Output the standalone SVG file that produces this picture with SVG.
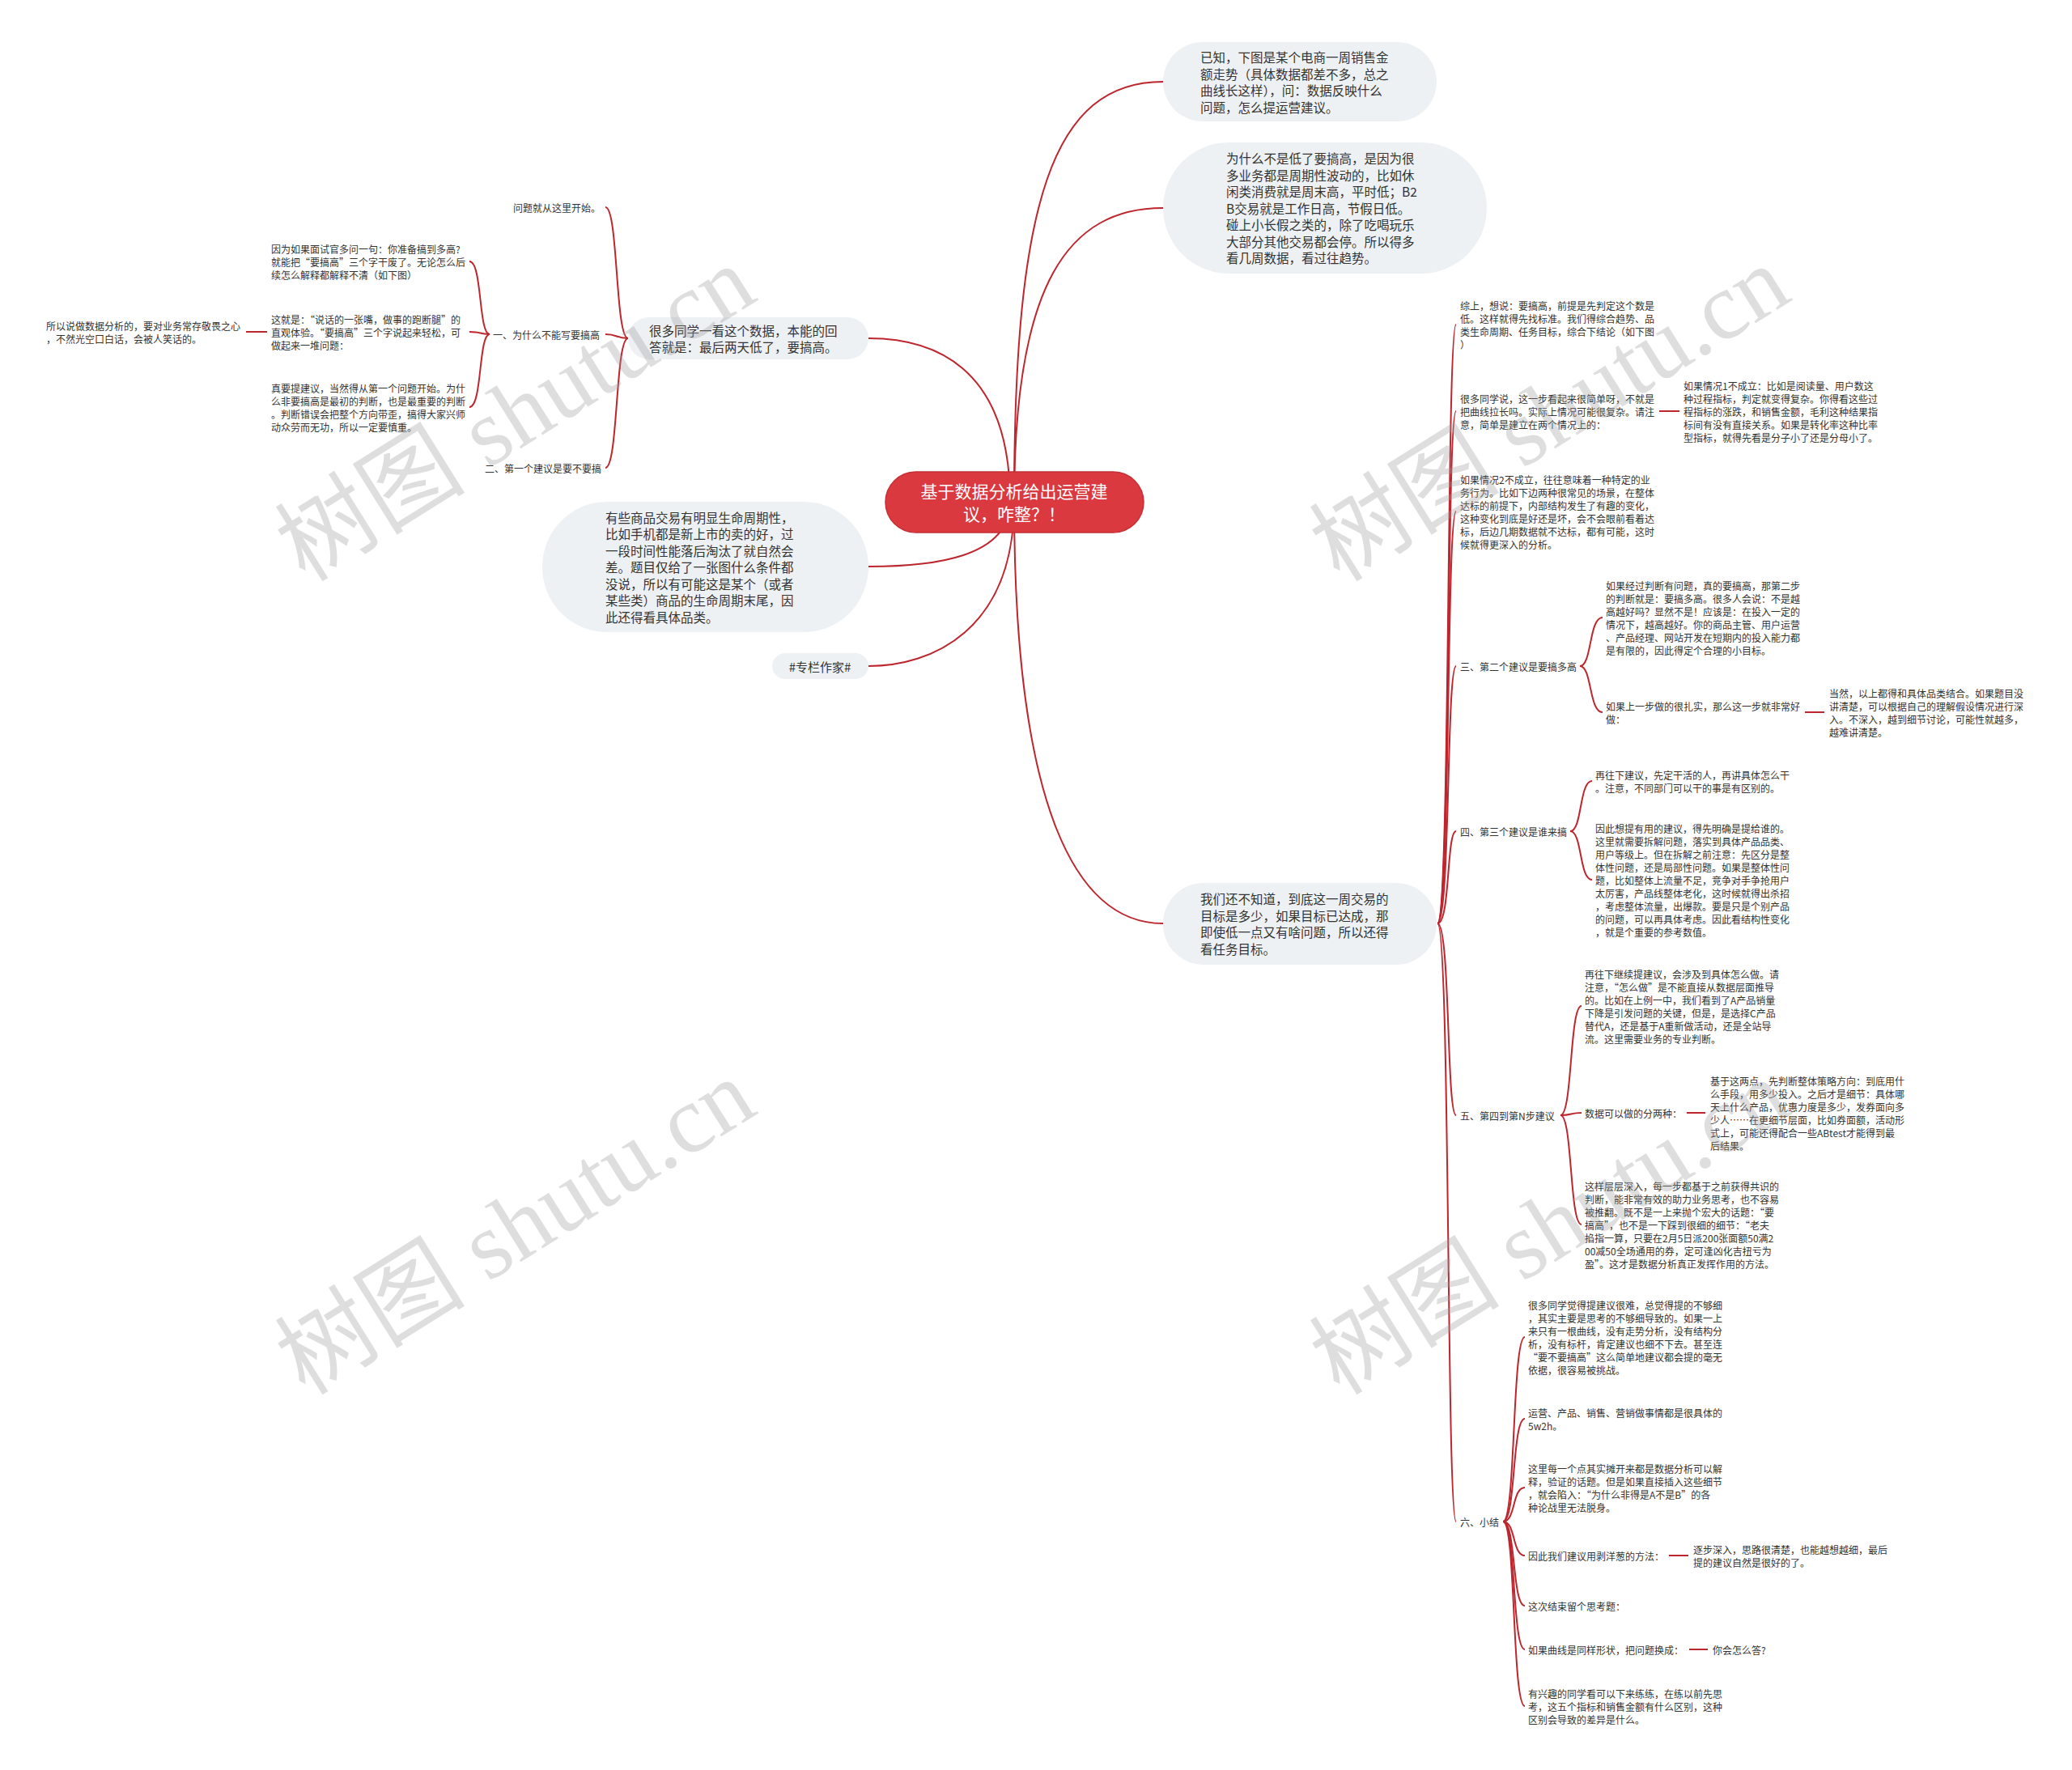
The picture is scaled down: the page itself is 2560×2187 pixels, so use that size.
<svg xmlns="http://www.w3.org/2000/svg" width="2560" height="2187" viewBox="0 0 2560 2187">
<style>
text{font-family:"Noto Sans CJK SC","Noto Sans",sans-serif;fill:#333;dominant-baseline:central}
.s{font-size:12px}
.b{font-size:15.5px}
.t{font-size:15px}
.c{font-size:21px;fill:#fff}
.bub{fill:#eef1f4}
.ln{fill:none;stroke:#bd262d;stroke-width:2}
.wm{font-family:"Liberation Serif","Noto Sans CJK SC",serif;font-size:118px;fill:#9a9a9a;fill-opacity:0.33;dominant-baseline:auto}
</style>
<rect width="2560" height="2187" fill="#fff"/>
<g id="connectors" class="ln">
<path d="M1253,620 C1253,250 1300,101 1437,101"/>
<path d="M1253,620 C1253,350 1320,257 1437,257"/>
<path d="M1248,620 C1248,450 1150,418 1073,418"/>
<path d="M1248,620 C1248,690 1150,700 1073,700"/>
<path d="M1253,620 C1253,780 1150,823 1073,823"/>
<path d="M1253,620 C1253,1000 1330,1141 1437,1141"/>
<path d="M776,418 C760,418 764,256 748,256"/>
<path d="M776,418 C760,418 764,413 748,413"/>
<path d="M776,418 C760,418 764,578 748,578"/>
<path d="M605,413 C591,413 596,323 580,323"/>
<path d="M605,413 C591,413 596,410 580,410"/>
<path d="M605,413 C591,413 596,503 580,503"/>
<path d="M304,410 L330,410"/>
<path d="M1776,1141 C1792,1141 1787,401 1799,401"/>
<path d="M1776,1141 C1792,1141 1787,508 1799,508"/>
<path d="M1776,1141 C1792,1141 1787,632 1799,632"/>
<path d="M1776,1141 C1792,1141 1787,823 1799,823"/>
<path d="M1776,1141 C1792,1141 1787,1027 1799,1027"/>
<path d="M1776,1141 C1792,1141 1787,1378 1799,1378"/>
<path d="M1776,1141 C1792,1141 1787,1880 1799,1880"/>
<path d="M2050,508 L2075,508"/>
<path d="M1952,823 C1967,823 1963,763 1980,763"/>
<path d="M1952,823 C1967,823 1963,880 1980,880"/>
<path d="M2230,880 L2254,880"/>
<path d="M1940,1027 C1955,1027 1951,965 1967,965"/>
<path d="M1940,1027 C1955,1027 1951,1087 1967,1087"/>
<path d="M1928,1378 C1943,1378 1939,1243 1954,1243"/>
<path d="M1928,1378 C1943,1378 1939,1375 1954,1375"/>
<path d="M1928,1378 C1943,1378 1939,1513 1954,1513"/>
<path d="M2084,1375 L2107,1375"/>
<path d="M1857,1880 C1873,1880 1868,1652 1884,1652"/>
<path d="M1857,1880 C1873,1880 1868,1753 1884,1753"/>
<path d="M1857,1880 C1873,1880 1868,1838 1884,1838"/>
<path d="M1857,1880 C1873,1880 1868,1922 1884,1922"/>
<path d="M1857,1880 C1873,1880 1868,1984 1884,1984"/>
<path d="M1857,1880 C1873,1880 1868,2038 1884,2038"/>
<path d="M1857,1880 C1873,1880 1868,2108 1884,2108"/>
<path d="M2062,1922 L2086,1922"/>
<path d="M2087,2038 L2110,2038"/>
</g>
<g id="root">
<rect x="1094" y="583" width="319" height="75" rx="37.5" fill="#d9393f" stroke="#c52f35" stroke-width="1.5"/>
<text class="c" text-anchor="middle"><tspan x="1253" y="606">基于数据分析给出运营建</tspan><tspan x="1253" y="634">议，咋整？！</tspan></text>
</g>
<g id="n-known">
<rect class="bub" x="1437" y="52" width="338" height="98" rx="49"/>
<text class="b"><tspan x="1483" y="70">已知，下图是某个电商一周销售金</tspan><tspan x="1483" y="91">额走势（具体数据都差不多，总之</tspan><tspan x="1483" y="111">曲线长这样），问：数据反映什么</tspan><tspan x="1483" y="132">问题，怎么提运营建议。</tspan></text>
</g>
<g id="n-why">
<rect class="bub" x="1437" y="176" width="400" height="162" rx="81"/>
<text class="b"><tspan x="1515" y="195">为什么不是低了要搞高，是因为很</tspan><tspan x="1515" y="216">多业务都是周期性波动的，比如休</tspan><tspan x="1515" y="236">闲类消费就是周末高，平时低；B2</tspan><tspan x="1515" y="257">B交易就是工作日高，节假日低。</tspan><tspan x="1515" y="277">碰上小长假之类的，除了吃喝玩乐</tspan><tspan x="1515" y="298">大部分其他交易都会停。所以得多</tspan><tspan x="1515" y="318">看几周数据，看过往趋势。</tspan></text>
</g>
<g id="n-many">
<rect class="bub" x="776" y="392" width="297" height="52" rx="26"/>
<text class="b"><tspan x="802" y="408">很多同学一看这个数据，本能的回</tspan><tspan x="802" y="428">答就是：最后两天低了，要搞高。</tspan></text>
</g>
<g id="n-life">
<rect class="bub" x="670" y="620" width="403" height="161" rx="80"/>
<text class="b"><tspan x="748" y="639">有些商品交易有明显生命周期性，</tspan><tspan x="748" y="659">比如手机都是新上市的卖的好，过</tspan><tspan x="748" y="680">一段时间性能落后淘汰了就自然会</tspan><tspan x="748" y="700">差。题目仅给了一张图什么条件都</tspan><tspan x="748" y="721">没说，所以有可能这是某个（或者</tspan><tspan x="748" y="741">某些类）商品的生命周期末尾，因</tspan><tspan x="748" y="762">此还得看具体品类。</tspan></text>
</g>
<g id="n-tag">
<rect class="bub" x="954" y="807" width="119" height="32" rx="16"/>
<text class="t" text-anchor="middle" x="1013" y="823">#专栏作家#</text>
</g>
<g id="n-target">
<rect class="bub" x="1437" y="1091" width="338" height="101" rx="50"/>
<text class="b"><tspan x="1483" y="1110">我们还不知道，到底这一周交易的</tspan><tspan x="1483" y="1131">目标是多少，如果目标已达成，那</tspan><tspan x="1483" y="1151">即使低一点又有啥问题，所以还得</tspan><tspan x="1483" y="1172">看任务目标。</tspan></text>
</g>
<g id="n-start"><text class="s" x="634" y="256">问题就从这里开始。</text></g>
<g id="n-one"><text class="s" x="609" y="413">一、为什么不能写要搞高</text></g>
<g id="n-two"><text class="s" x="599" y="578">二、第一个建议是要不要搞</text></g>
<g id="n-one-a"><text class="s"><tspan x="335" y="307">因为如果面试官多问一句：你准备搞到多高?</tspan><tspan x="335" y="323">就能把“要搞高”三个字干废了。无论怎么后</tspan><tspan x="335" y="339">续怎么解释都解释不清（如下图）</tspan></text></g>
<g id="n-one-b"><text class="s"><tspan x="335" y="394">这就是：“说话的一张嘴，做事的跑断腿”的</tspan><tspan x="335" y="410">直观体验。“要搞高”三个字说起来轻松，可</tspan><tspan x="335" y="426">做起来一堆问题：</tspan></text></g>
<g id="n-one-c"><text class="s"><tspan x="335" y="479">真要提建议，当然得从第一个问题开始。为什</tspan><tspan x="335" y="495">么非要搞高是最初的判断，也是最重要的判断</tspan><tspan x="335" y="511">。判断错误会把整个方向带歪，搞得大家兴师</tspan><tspan x="335" y="527">动众劳而无功，所以一定要慎重。</tspan></text></g>
<g id="n-one-b1"><text class="s"><tspan x="57" y="402">所以说做数据分析的，要对业务常存敬畏之心</tspan><tspan x="57" y="418">，不然光空口白话，会被人笑话的。</tspan></text></g>
<g id="n-r1"><text class="s"><tspan x="1804" y="377">综上，想说：要搞高，前提是先判定这个数是</tspan><tspan x="1804" y="393">低。这样就得先找标准。我们得综合趋势、品</tspan><tspan x="1804" y="409">类生命周期、任务目标，综合下结论（如下图</tspan><tspan x="1804" y="425">）</tspan></text></g>
<g id="n-r2"><text class="s"><tspan x="1804" y="492">很多同学说，这一步看起来很简单呀，不就是</tspan><tspan x="1804" y="508">把曲线拉长吗。实际上情况可能很复杂。请注</tspan><tspan x="1804" y="524">意，简单是建立在两个情况上的：</tspan></text></g>
<g id="n-r2a"><text class="s"><tspan x="2080" y="476">如果情况1不成立：比如是阅读量、用户数这</tspan><tspan x="2080" y="492">种过程指标，判定就变得复杂。你得看这些过</tspan><tspan x="2080" y="508">程指标的涨跌，和销售金额，毛利这种结果指</tspan><tspan x="2080" y="524">标间有没有直接关系。如果是转化率这种比率</tspan><tspan x="2080" y="540">型指标，就得先看是分子小了还是分母小了。</tspan></text></g>
<g id="n-r3"><text class="s"><tspan x="1804" y="592">如果情况2不成立，往往意味着一种特定的业</tspan><tspan x="1804" y="608">务行为。比如下边两种很常见的场景，在整体</tspan><tspan x="1804" y="624">达标的前提下，内部结构发生了有趣的变化，</tspan><tspan x="1804" y="640">这种变化到底是好还是坏，会不会眼前看着达</tspan><tspan x="1804" y="656">标，后边几期数据就不达标，都有可能，这时</tspan><tspan x="1804" y="672">候就得更深入的分析。</tspan></text></g>
<g id="n-three"><text class="s" x="1804" y="823">三、第二个建议是要搞多高</text></g>
<g id="n-three-a"><text class="s"><tspan x="1984" y="723">如果经过判断有问题，真的要搞高，那第二步</tspan><tspan x="1984" y="739">的判断就是：要搞多高。很多人会说：不是越</tspan><tspan x="1984" y="755">高越好吗？显然不是！应该是：在投入一定的</tspan><tspan x="1984" y="771">情况下，越高越好。你的商品主管、用户运营</tspan><tspan x="1984" y="787">、产品经理、网站开发在短期内的投入能力都</tspan><tspan x="1984" y="803">是有限的，因此得定个合理的小目标。</tspan></text></g>
<g id="n-three-b"><text class="s"><tspan x="1984" y="872">如果上一步做的很扎实，那么这一步就非常好</tspan><tspan x="1984" y="888">做：</tspan></text></g>
<g id="n-three-b1"><text class="s"><tspan x="2260" y="856">当然，以上都得和具体品类结合。如果题目没</tspan><tspan x="2260" y="872">讲清楚，可以根据自己的理解假设情况进行深</tspan><tspan x="2260" y="888">入。不深入，越到细节讨论，可能性就越多，</tspan><tspan x="2260" y="904">越难讲清楚。</tspan></text></g>
<g id="n-four"><text class="s" x="1804" y="1027">四、第三个建议是谁来搞</text></g>
<g id="n-four-a"><text class="s"><tspan x="1971" y="957">再往下建议，先定干活的人，再讲具体怎么干</tspan><tspan x="1971" y="973">。注意，不同部门可以干的事是有区别的。</tspan></text></g>
<g id="n-four-b"><text class="s"><tspan x="1971" y="1023">因此想提有用的建议，得先明确是提给谁的。</tspan><tspan x="1971" y="1039">这里就需要拆解问题，落实到具体产品品类、</tspan><tspan x="1971" y="1055">用户等级上。但在拆解之前注意：先区分是整</tspan><tspan x="1971" y="1071">体性问题，还是局部性问题。如果是整体性问</tspan><tspan x="1971" y="1087">题，比如整体上流量不足，竞争对手争抢用户</tspan><tspan x="1971" y="1103">太厉害，产品线整体老化，这时候就得出杀招</tspan><tspan x="1971" y="1119">，考虑整体流量，出爆款。要是只是个别产品</tspan><tspan x="1971" y="1135">的问题，可以再具体考虑。因此看结构性变化</tspan><tspan x="1971" y="1151">，就是个重要的参考数值。</tspan></text></g>
<g id="n-five"><text class="s" x="1804" y="1378">五、第四到第N步建议</text></g>
<g id="n-five-a"><text class="s"><tspan x="1958" y="1203">再往下继续提建议，会涉及到具体怎么做。请</tspan><tspan x="1958" y="1219">注意，“怎么做”是不能直接从数据层面推导</tspan><tspan x="1958" y="1235">的。比如在上例一中，我们看到了A产品销量</tspan><tspan x="1958" y="1251">下降是引发问题的关键，但是，是选择C产品</tspan><tspan x="1958" y="1267">替代A，还是基于A重新做活动，还是全站导</tspan><tspan x="1958" y="1283">流。这里需要业务的专业判断。</tspan></text></g>
<g id="n-five-b"><text class="s" x="1958" y="1375">数据可以做的分两种：</text></g>
<g id="n-five-b1"><text class="s"><tspan x="2113" y="1335">基于这两点，先判断整体策略方向：到底用什</tspan><tspan x="2113" y="1351">么手段，用多少投入。之后才是细节：具体哪</tspan><tspan x="2113" y="1367">天上什么产品，优惠力度是多少，发券面向多</tspan><tspan x="2113" y="1383">少人……在更细节层面，比如券面额，活动形</tspan><tspan x="2113" y="1399">式上，可能还得配合一些ABtest才能得到最</tspan><tspan x="2113" y="1415">后结果。</tspan></text></g>
<g id="n-five-c"><text class="s"><tspan x="1958" y="1465">这样层层深入，每一步都基于之前获得共识的</tspan><tspan x="1958" y="1481">判断，能非常有效的助力业务思考，也不容易</tspan><tspan x="1958" y="1497">被推翻。既不是一上来抛个宏大的话题：“要</tspan><tspan x="1958" y="1513">搞高”，也不是一下踩到很细的细节：“老夫</tspan><tspan x="1958" y="1529">掐指一算，只要在2月5日派200张面额50满2</tspan><tspan x="1958" y="1545">00减50全场通用的券，定可逢凶化吉扭亏为</tspan><tspan x="1958" y="1561">盈”。这才是数据分析真正发挥作用的方法。</tspan></text></g>
<g id="n-six"><text class="s" x="1804" y="1880">六、小结</text></g>
<g id="n-six-a"><text class="s"><tspan x="1888" y="1612">很多同学觉得提建议很难，总觉得提的不够细</tspan><tspan x="1888" y="1628">，其实主要是思考的不够细导致的。如果一上</tspan><tspan x="1888" y="1644">来只有一根曲线，没有走势分析，没有结构分</tspan><tspan x="1888" y="1660">析，没有标杆，肯定建议也细不下去。甚至连</tspan><tspan x="1888" y="1676">“要不要搞高”这么简单地建议都会提的毫无</tspan><tspan x="1888" y="1692">依据，很容易被挑战。</tspan></text></g>
<g id="n-six-b"><text class="s"><tspan x="1888" y="1745">运营、产品、销售、营销做事情都是很具体的</tspan><tspan x="1888" y="1761">5w2h。</tspan></text></g>
<g id="n-six-c"><text class="s"><tspan x="1888" y="1814">这里每一个点其实摊开来都是数据分析可以解</tspan><tspan x="1888" y="1830">释，验证的话题。但是如果直接插入这些细节</tspan><tspan x="1888" y="1846">，就会陷入：“为什么非得是A不是B”的各</tspan><tspan x="1888" y="1862">种论战里无法脱身。</tspan></text></g>
<g id="n-six-d"><text class="s" x="1888" y="1922">因此我们建议用剥洋葱的方法：</text></g>
<g id="n-six-d1"><text class="s"><tspan x="2092" y="1914">逐步深入，思路很清楚，也能越想越细，最后</tspan><tspan x="2092" y="1930">提的建议自然是很好的了。</tspan></text></g>
<g id="n-six-e"><text class="s" x="1888" y="1984">这次结束留个思考题：</text></g>
<g id="n-six-f"><text class="s" x="1888" y="2038">如果曲线是同样形状，把问题换成：</text></g>
<g id="n-six-f1"><text class="s" x="2116" y="2038">你会怎么答?</text></g>
<g id="n-six-g"><text class="s"><tspan x="1888" y="2092">有兴趣的同学看可以下来练练，在练以前先思</tspan><tspan x="1888" y="2108">考，这五个指标和销售金额有什么区别，这种</tspan><tspan x="1888" y="2124">区别会导致的差异是什么。</tspan></text></g>
<g id="watermarks">
<text class="wm" transform="translate(658,545) rotate(-32)" text-anchor="middle">树图 shutu.cn</text>
<text class="wm" transform="translate(1936,545) rotate(-32)" text-anchor="middle">树图 shutu.cn</text>
<text class="wm" transform="translate(658,1550) rotate(-32)" text-anchor="middle">树图 shutu.cn</text>
<text class="wm" transform="translate(1936,1550) rotate(-32)" text-anchor="middle">树图 shutu.cn</text>
</g>
</svg>
